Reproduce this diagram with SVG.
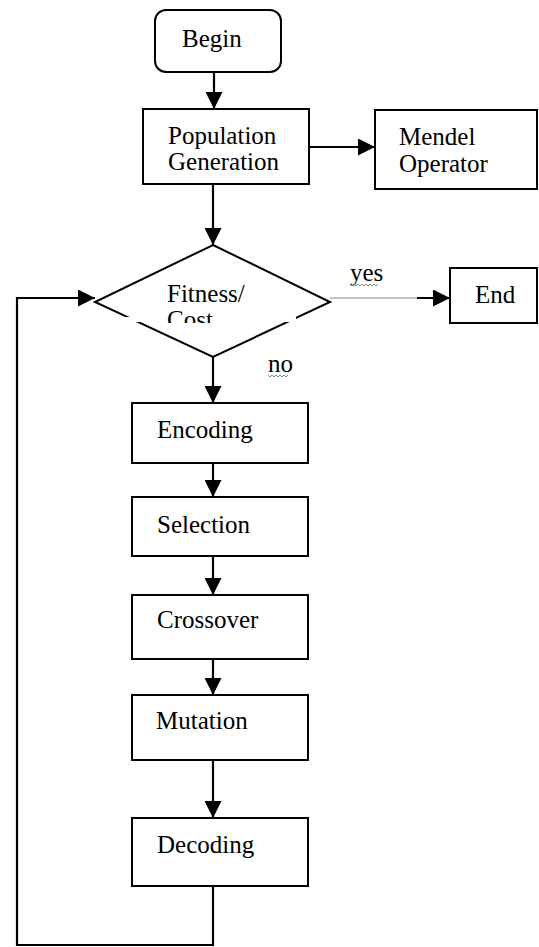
<svg xmlns="http://www.w3.org/2000/svg" width="539" height="947" viewBox="0 0 539 947">
<style>
.box{fill:#fff;stroke:#000;stroke-width:2}
.t{font-family:"Liberation Serif","DejaVu Serif","Times New Roman",serif;font-size:25px;fill:#000}
.c{fill:none;stroke:#000;stroke-width:2.2}
.sq{fill:none;stroke:#888;stroke-width:1}
</style>
<defs>
<marker id="ah" markerWidth="17" markerHeight="17" refX="17" refY="8.5" orient="auto" markerUnits="userSpaceOnUse">
<path d="M0,0 L17,8.5 L0,17 Z" fill="#000"/>
</marker>
<clipPath id="costclip"><rect x="150" y="300" width="120" height="23"/></clipPath>
</defs>
<rect width="539" height="947" fill="#fff"/>
<g id="connectors">
<line class="c" x1="214" y1="72" x2="214" y2="109" marker-end="url(#ah)"/>
<line class="c" x1="309" y1="147" x2="375" y2="147" marker-end="url(#ah)"/>
<line class="c" x1="213" y1="184" x2="213" y2="245" marker-end="url(#ah)"/>
<line x1="330" y1="298" x2="418" y2="298" stroke="#888" stroke-width="1"/>
<line class="c" x1="417" y1="298" x2="450" y2="298" marker-end="url(#ah)"/>
<line class="c" x1="213" y1="357" x2="213" y2="403" marker-end="url(#ah)"/>
<line class="c" x1="213" y1="463" x2="213" y2="497" marker-end="url(#ah)"/>
<line class="c" x1="213" y1="556" x2="213" y2="595" marker-end="url(#ah)"/>
<line class="c" x1="213" y1="659" x2="213" y2="695" marker-end="url(#ah)"/>
<line class="c" x1="213" y1="760" x2="213" y2="818" marker-end="url(#ah)"/>
<polyline class="c" points="213,886 213,945 17,945 17,298 95,298" marker-end="url(#ah)"/>
</g>
<g id="begin">
<rect class="box" x="155" y="10" width="126" height="62" rx="11"/>
<text class="t" x="182" y="47">Begin</text>
</g>
<g id="population">
<rect class="box" x="143" y="109" width="166" height="75"/>
<text class="t" x="168" y="144">Population</text>
<text class="t" x="168" y="170">Generation</text>
</g>
<g id="mendel">
<rect class="box" x="375" y="110" width="162" height="79"/>
<text class="t" x="399" y="145">Mendel</text>
<text class="t" x="399" y="172">Operator</text>
</g>
<g id="fitness">
<polygon class="box" points="213,245 330,302 213,357 95,302"/>
<rect x="125" y="317" width="171" height="5" fill="#fff"/>
<text class="t" x="167" y="302">Fitness/</text>
<text class="t" x="167" y="328" clip-path="url(#costclip)">Cost</text>
</g>
<g id="yes-label">
<text class="t" x="350" y="281">yes</text>
<path class="sq" d="M350,284 l2,2 l2,-2 l2,2 l2,-2 l2,2 l2,-2 l2,2 l2,-2 l2,2 l2,-2 l2,2 l2,-2 l2,2 l2,-2"/>
</g>
<g id="end">
<rect class="box" x="450" y="268" width="87" height="55"/>
<text class="t" x="475" y="303">End</text>
</g>
<g id="no-label">
<text class="t" x="268" y="372">no</text>
<path class="sq" d="M268,375 l2,2 l2,-2 l2,2 l2,-2 l2,2 l2,-2 l2,2 l2,-2 l2,2 l2,-2"/>
</g>
<g id="encoding">
<rect class="box" x="132" y="403" width="176" height="60"/>
<text class="t" x="157" y="438">Encoding</text>
</g>
<g id="selection">
<rect class="box" x="132" y="497" width="176" height="59"/>
<text class="t" x="157" y="533">Selection</text>
</g>
<g id="crossover">
<rect class="box" x="132" y="595" width="176" height="64"/>
<text class="t" x="157" y="628">Crossover</text>
</g>
<g id="mutation">
<rect class="box" x="132" y="695" width="176" height="65"/>
<text class="t" x="156" y="729">Mutation</text>
</g>
<g id="decoding">
<rect class="box" x="132" y="818" width="176" height="68"/>
<text class="t" x="157" y="853">Decoding</text>
</g>
</svg>
